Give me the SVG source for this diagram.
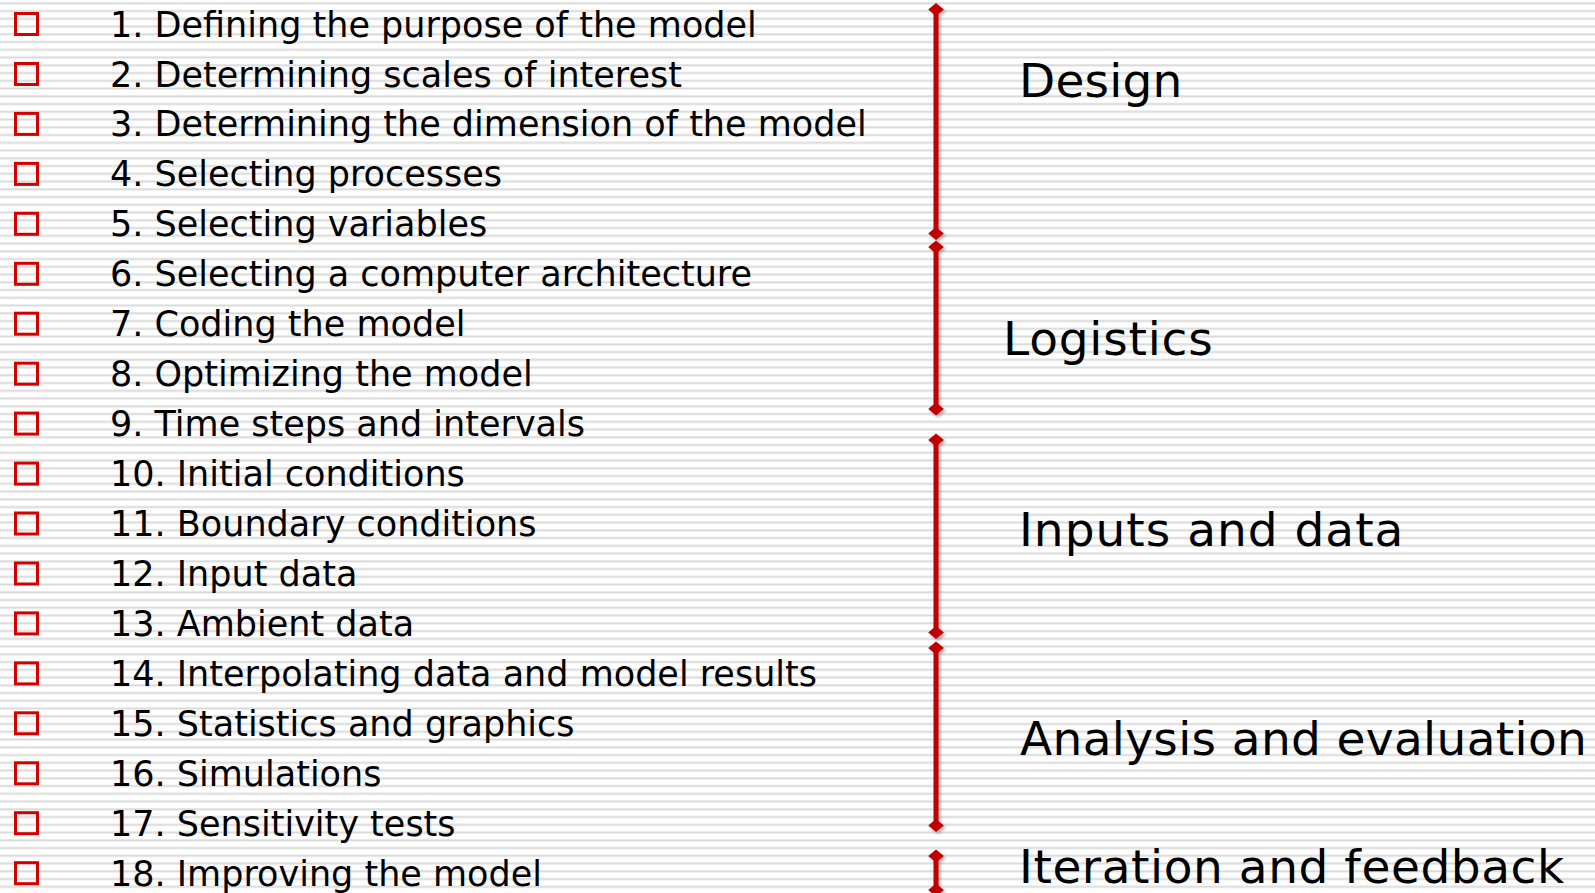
<svg xmlns="http://www.w3.org/2000/svg" width="1595" height="893" viewBox="0 0 1595 893">
  <defs>
    <pattern id="stripes" x="0" y="0" width="20" height="7.75" patternUnits="userSpaceOnUse">
      <rect x="0" y="2.3" width="20" height="2" fill="#d9d9d9"/>
    </pattern>
    <filter id="shadow" filterUnits="userSpaceOnUse" x="900" y="-10" width="80" height="920">
      <feDropShadow dx="2" dy="2" stdDeviation="1.5" flood-color="#000" flood-opacity="0.3"/>
    </filter>
    <marker id="dia" viewBox="-8 -7 16 14" markerWidth="16" markerHeight="14" markerUnits="userSpaceOnUse" orient="0" refX="0" refY="0">
      <polygon points="0,-6.5 7.8,0 0,6.5 -7.8,0" fill="#c00000"/>
    </marker>
  </defs>
  <style>
    .item { font-family: "DejaVu Sans", Verdana, sans-serif; font-size: 35px; fill: #000; }
    .label { font-family: "DejaVu Sans", Verdana, sans-serif; font-size: 47px; fill: #000; }
    .box { fill: none; stroke: #d40000; stroke-width: 3; }
    .bracket { stroke: #c00000; stroke-width: 5; fill: none; marker-start: url(#dia); marker-end: url(#dia); }
  </style>
  <rect width="1595" height="893" fill="#ffffff"/>
  <rect width="1595" height="893" fill="url(#stripes)"/>

  <g id="list">
    <g id="item1"><rect class="box" x="15.5" y="13.5" width="22" height="21"/><text class="item" x="110" y="36.5">1. Defining the purpose of the model</text></g>
    <g id="item2"><rect class="box" x="15.5" y="63.5" width="22" height="21"/><text class="item" x="110" y="86.5">2. Determining scales of interest</text></g>
    <g id="item3"><rect class="box" x="15.5" y="113.4" width="22" height="21"/><text class="item" x="110" y="136.4">3. Determining the dimension of the model</text></g>
    <g id="item4"><rect class="box" x="15.5" y="163.4" width="22" height="21"/><text class="item" x="110" y="186.4">4. Selecting processes</text></g>
    <g id="item5"><rect class="box" x="15.5" y="213.3" width="22" height="21"/><text class="item" x="110" y="236.3">5. Selecting variables</text></g>
    <g id="item6"><rect class="box" x="15.5" y="263.3" width="22" height="21"/><text class="item" x="110" y="286.3">6. Selecting a computer architecture</text></g>
    <g id="item7"><rect class="box" x="15.5" y="313.2" width="22" height="21"/><text class="item" x="110" y="336.2">7. Coding the model</text></g>
    <g id="item8"><rect class="box" x="15.5" y="363.2" width="22" height="21"/><text class="item" x="110" y="386.2">8. Optimizing the model</text></g>
    <g id="item9"><rect class="box" x="15.5" y="413.1" width="22" height="21"/><text class="item" x="110" y="436.1">9. Time steps and intervals</text></g>
    <g id="item10"><rect class="box" x="15.5" y="463.1" width="22" height="21"/><text class="item" x="110" y="486.1">10. Initial conditions</text></g>
    <g id="item11"><rect class="box" x="15.5" y="513.0" width="22" height="21"/><text class="item" x="110" y="536.0">11. Boundary conditions</text></g>
    <g id="item12"><rect class="box" x="15.5" y="563.0" width="22" height="21"/><text class="item" x="110" y="586.0">12. Input data</text></g>
    <g id="item13"><rect class="box" x="15.5" y="612.9" width="22" height="21"/><text class="item" x="110" y="635.9">13. Ambient data</text></g>
    <g id="item14"><rect class="box" x="15.5" y="662.9" width="22" height="21"/><text class="item" x="110" y="685.9">14. Interpolating data and model results</text></g>
    <g id="item15"><rect class="box" x="15.5" y="712.8" width="22" height="21"/><text class="item" x="110" y="735.8">15. Statistics and graphics</text></g>
    <g id="item16"><rect class="box" x="15.5" y="762.8" width="22" height="21"/><text class="item" x="110" y="785.8">16. Simulations</text></g>
    <g id="item17"><rect class="box" x="15.5" y="812.7" width="22" height="21"/><text class="item" x="110" y="835.7">17. Sensitivity tests</text></g>
    <g id="item18"><rect class="box" x="15.5" y="862.7" width="22" height="21"/><text class="item" x="110" y="885.7">18. Improving the model</text></g>
  </g>

  <g id="connectors" filter="url(#shadow)">
    <line class="bracket" x1="936" y1="9.5" x2="936" y2="233.5"/>
    <line class="bracket" x1="936" y1="247" x2="936" y2="409"/>
    <line class="bracket" x1="936" y1="440" x2="936" y2="632.5"/>
    <line class="bracket" x1="936" y1="648" x2="936" y2="825.5"/>
    <line class="bracket" x1="936" y1="856" x2="936" y2="890"/>
  </g>

  <g id="design"><text class="label" x="1019" y="97" letter-spacing="0.2">Design</text></g>
  <g id="logistics"><text class="label" x="1003" y="355" letter-spacing="0.8">Logistics</text></g>
  <g id="inputs"><text class="label" x="1019" y="546" letter-spacing="1">Inputs and data</text></g>
  <g id="analysis"><text class="label" x="1020" y="755" letter-spacing="0.35">Analysis and evaluation</text></g>
  <g id="iteration"><text class="label" x="1019" y="883" letter-spacing="0.55">Iteration and feedback</text></g>
</svg>
